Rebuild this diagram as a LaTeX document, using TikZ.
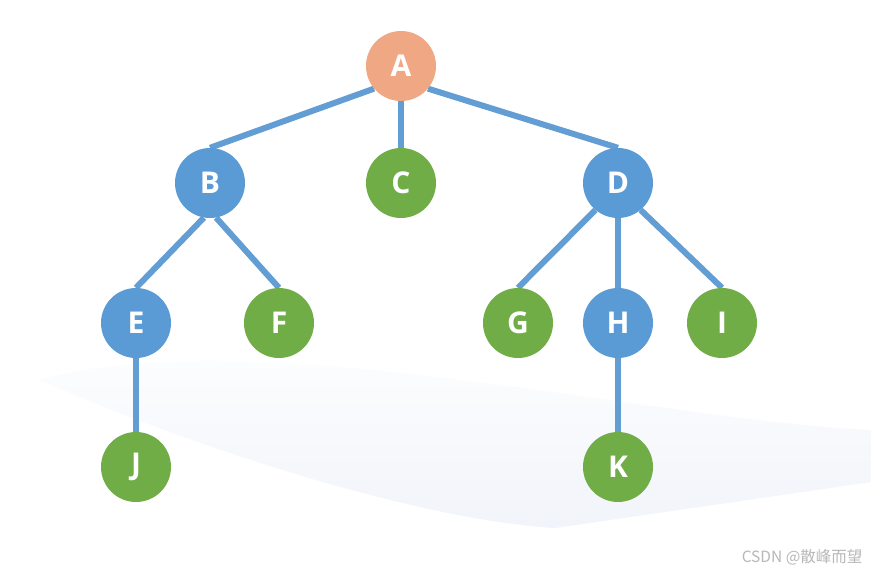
\documentclass[tikz,border=0pt]{standalone}
\usepackage{fontspec}
\setmainfont{Noto Sans}
\newfontfamily\labelfont{Open Sans}
\newfontfamily\cjkfont{Noto Sans CJK SC}
\usetikzlibrary{
backgrounds,
positioning,
}
\definecolor{nodeblue}{HTML}{5B9BD5}
\definecolor{nodegreen}{HTML}{70AD47}
\definecolor{nodeorange}{HTML}{EFA883}
\definecolor{edgeblue}{HTML}{629DD3}
\definecolor{wavegray}{HTML}{F1F4FA}
\tikzset{
vertex/.style={circle, minimum size=70pt, inner sep=0pt, text=white,
  font=\labelfont\bfseries\fontsize{30}{30}\selectfont},
root/.style={vertex, fill=nodeorange},
inner/.style={vertex, fill=nodeblue},
leaf/.style={vertex, fill=nodegreen},
branch/.style={draw=edgeblue, line width=6pt},
}

\begin{document}
\begin{tikzpicture}[x=1pt, y=-1pt]
    \useasboundingbox (0,0) rectangle (871,571);
    % nodes
    \node [root] (A) at (401,66) {A};
    \node [inner] (B) at (210,183) {B};
    \node [leaf] (C) at (401,183) {C};
    \node [inner] (D) at (618,183) {D};
    \node [inner] (E) at (136,323) {E};
    \node [leaf] (F) at (279,323) {F};
    \node [leaf] (G) at (518,323) {G};
    \node [inner] (H) at (618,323) {H};
    \node [leaf] (I) at (722,323) {I};
    \node [leaf] (J) at (136,467) {J};
    \node [leaf] (K) at (618,467) {K};
    \node [anchor=base east, text=black!28, font=\cjkfont\fontsize{15.5}{15.5}\selectfont]
        (mark) at (866,562) {CSDN @散峰而望};
    \begin{pgfonlayer}{background}
    \fill [white] (0,0) rectangle (871,571);
    % faint wave behind the tree
    \shade [top color=white, bottom color=wavegray]
        (40,380) .. controls (200,450) and (420,520) .. (555,528)
        -- (871,482) -- (871,430) .. controls (650,420) and (250,320) .. (40,380);
    % edges
    \draw [branch] (A.-140) -- (B.north);
    \draw [branch] (A.south) -- (C.north);
    \draw [branch] (A.-40) -- (D.north);
    \draw [branch] (B.-100) -- (E.north);
    \draw [branch] (B.-80) -- (F.north);
    \draw [branch] (D.-130) -- (G.north);
    \draw [branch] (D.south) -- (H.north);
    \draw [branch] (D.-50) -- (I.north);
    \draw [branch] (E.south) -- (J.north);
    \draw [branch] (H.south) -- (K.north);
    \end{pgfonlayer}
\end{tikzpicture}
\end{document}
